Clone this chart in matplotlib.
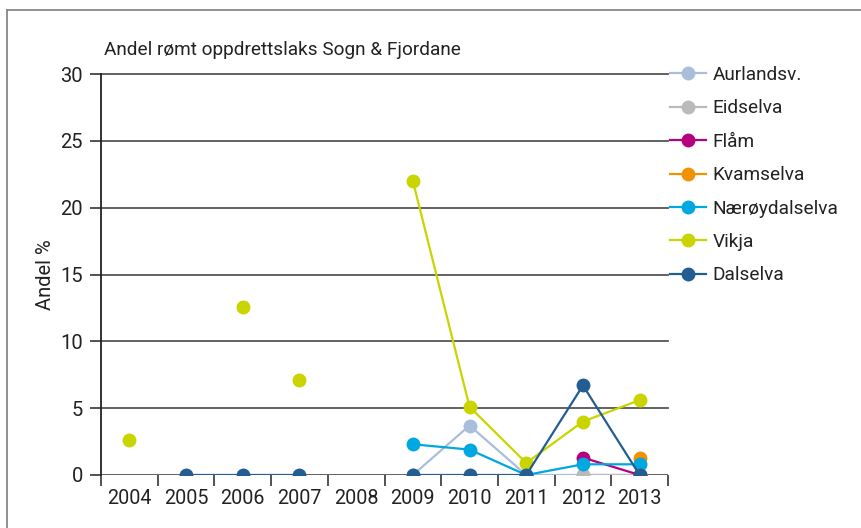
import numpy as np
import matplotlib
matplotlib.use("Agg")
import matplotlib.pyplot as plt
from matplotlib.lines import Line2D

plt.rcParams['font.family'] = ['Roboto', 'DejaVu Sans']

years = ['2004', '2005', '2006', '2007', '2008', '2009', '2010', '2011', '2012', '2013']
nan = np.nan
aurlandsv = [nan, nan, nan, nan, nan, 0.0, 3.7, 0.0, 0.0, 0.0]
eidselva = [nan, nan, nan, nan, nan, nan, nan, nan, 0.0, 0.0]
flam = [nan, nan, nan, nan, nan, nan, nan, nan, 1.3, 0.0]
kvamselva = [nan, nan, nan, nan, nan, nan, nan, nan, nan, 1.3]
naeroydalselva = [nan, nan, nan, nan, nan, 2.3, 1.9, 0.0, 0.8, 0.8]
vikja = [2.6, nan, 12.6, 7.1, nan, 22.0, 5.1, 0.9, 4.0, 5.6]
dalselva = [nan, 0.0, 0.0, 0.0, nan, 0.0, 0.0, 0.0, 6.7, 0.0]
vikja_line_from = '2009'

series = [
    ('Aurlandsv.', aurlandsv, '#a9bedb'),
    ('Eidselva', eidselva, '#bababa'),
    ('Flåm', flam, '#b5007f'),
    ('Kvamselva', kvamselva, '#f39200'),
    ('Nærøydalselva', naeroydalselva, '#00a8e1'),
    ('Vikja', vikja, '#c9d400'),
    ('Dalselva', dalselva, '#245d92'),
]

fig = plt.figure(figsize=(8.61, 5.28), dpi=100)
ax = fig.add_axes([101/861, 53/528, 567/861, 401/528])

x = np.arange(len(years))
# grid lines
for v in [5, 10, 15, 20, 25, 30]:
    ax.axhline(v, color='#555555', lw=1.3, zorder=1, clip_on=False)
ax.axhline(0, color='#555555', lw=1.3, zorder=1)

handles = []
for i, (name, vals, col) in enumerate(series):
    vals = np.array(vals, dtype=float)
    if name == 'Vikja':
        start = years.index(vikja_line_from)
        xl = x[start:]
        yl = vals[start:]
    else:
        xl, yl = x, vals
    ax.plot(xl, yl, color=col, lw=1.6, zorder=3 + i)
    ax.plot(x, vals, linestyle='none', marker='o', markersize=10, color=col,
            markeredgewidth=0, zorder=3 + i)
    handles.append(Line2D([], [], color=col, lw=1.6, marker='o', markersize=10,
                          markeredgewidth=0))

ax.set_xlim(-0.5, 9.5)
ax.set_ylim(0, 30)
ax.set_yticks([0, 5, 10, 15, 20, 25, 30])
ax.set_xticks(x)
ax.set_xticklabels(years)
ax.set_xticks(np.arange(-0.5, 10, 1), minor=True)
ax.tick_params(axis='x', which='major', length=0, pad=10, labelsize=14.2, colors='#222222')
ax.tick_params(axis='x', which='minor', length=8, width=1.3, color='#444444', direction='out')
ax.tick_params(axis='y', length=8, width=1.3, color='#444444', pad=5, labelsize=14.5,
               labelcolor='#222222')
for s in ['top', 'right', 'bottom']:
    ax.spines[s].set_visible(False)
ax.spines['left'].set_color('#222222')
ax.spines['left'].set_linewidth(1.3)
ax.spines['left'].set_zorder(2)

ax.set_ylabel('Andel %', fontsize=14.5, color='#222222', labelpad=4)
fig.text(104/861, 1 - 50/528, 'Andel rømt oppdrettslaks Sogn & Fjordane', fontsize=13.7,
         color='#222222', va='center', ha='left')

leg = fig.legend(handles, [s[0] for s in series], loc='upper left',
                 bbox_to_anchor=(670/861, 1 - 66/528), frameon=False, fontsize=13.7,
                 handlelength=1.9, handletextpad=0.35, labelspacing=0.81,
                 borderaxespad=0, borderpad=0)
for t in leg.get_texts():
    t.set_color('#222222')

# outer border
fig.add_artist(Line2D([7/861, 1.0], [1 - 10/528, 1 - 10/528], transform=fig.transFigure,
                      color='#888888', lw=1.3))
fig.add_artist(Line2D([7/861, 7/861], [0, 1 - 10/528], transform=fig.transFigure,
                      color='#888888', lw=1.3))

fig.savefig('out.png', dpi=100)
